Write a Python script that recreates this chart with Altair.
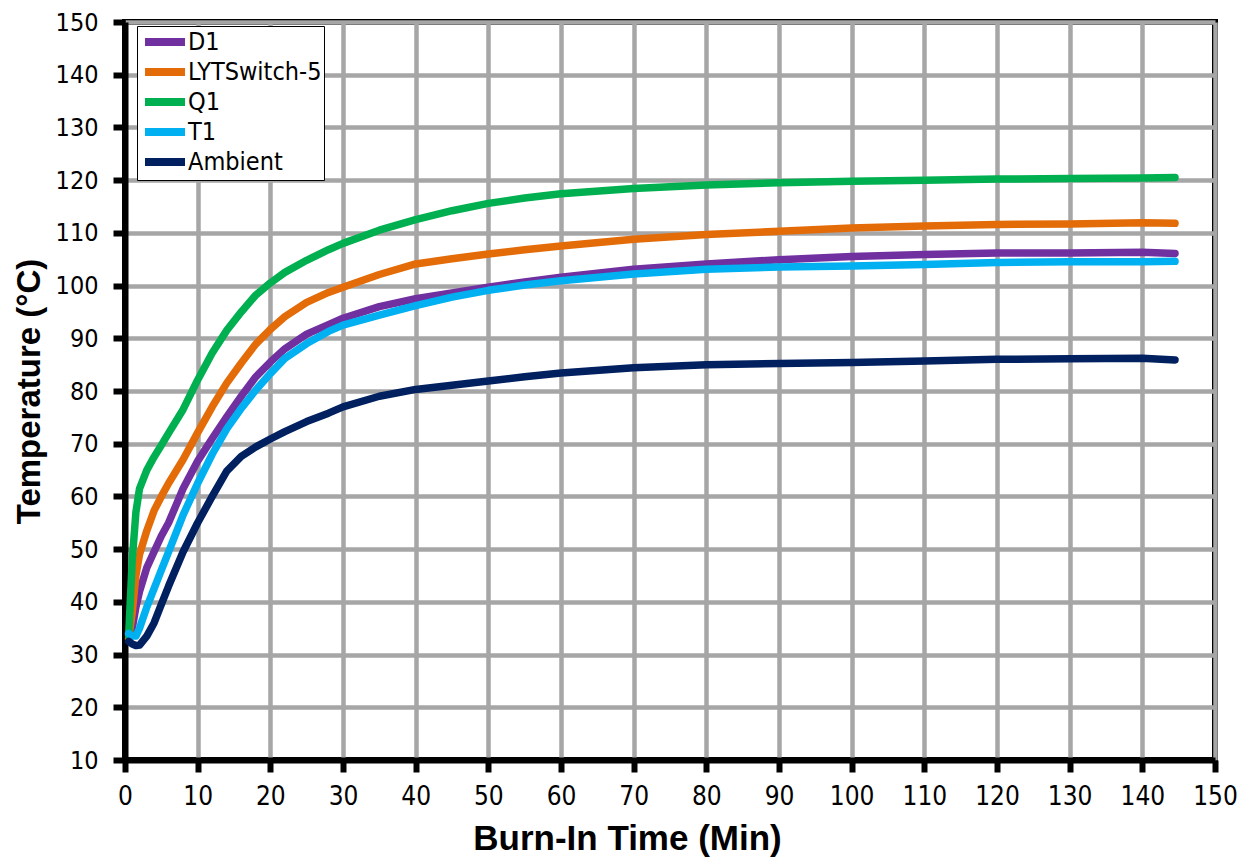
import altair as alt
import pandas as pd

time_min = [0.5, 1, 1.5, 2, 3, 4, 5, 6, 8, 10, 12, 14, 16, 18, 20, 22, 25, 28, 30,
            35, 40, 45, 50, 55, 60, 70, 80, 90, 100, 110, 120, 130, 140, 144.5]

d1 = [33, 35, 39, 42, 46.5, 49.5, 52.5, 55, 61.5, 66.7, 71, 75.1, 79, 82.7, 85.5, 88, 90.8, 92.6, 93.8,
      96, 97.5, 98.6, 99.7, 100.7, 101.6, 103.1, 104.1, 104.9, 105.5, 105.9, 106.2, 106.2, 106.3, 106.1]
lyt = [33, 38, 45, 49, 53.5, 57.3, 60, 62.5, 67, 72.1, 77, 81.5, 85.3, 88.9, 91.7, 94.1, 96.8, 98.7, 99.7,
       102.1, 104.1, 105.1, 106, 106.8, 107.5, 108.8, 109.7, 110.3, 110.9, 111.3, 111.6, 111.7, 111.9, 111.8]
q1 = [33.5, 48, 57, 61.5, 65, 67.5, 69.7, 72, 76.5, 82.1, 87.2, 91.5, 95, 98.2, 100.5, 102.5, 104.8, 106.8, 108,
      110.5, 112.5, 114.2, 115.6, 116.6, 117.4, 118.4, 119.1, 119.5, 119.8, 120, 120.2, 120.3, 120.4, 120.5]
t1 = [34, 33.5, 33.5, 35, 39, 42.5, 46, 49.5, 56.5, 62.5, 68, 72.8, 76.7, 80.2, 83.3, 86.2, 89, 91.3, 92.5,
      94.4, 96.2, 97.8, 99.1, 100.1, 100.9, 102.2, 103.1, 103.5, 103.7, 104, 104.4, 104.5, 104.5, 104.6]
ambient = [32.5, 32, 31.7, 31.8, 33.5, 36, 39.5, 43, 49.5, 55, 60, 64.8, 67.6, 69.4, 70.9, 72.3, 74.2, 75.8, 77,
           79, 80.3, 81.1, 81.9, 82.7, 83.4, 84.4, 85, 85.2, 85.4, 85.7, 86, 86.1, 86.2, 85.9]

series_names = ["D1", "LYTSwitch-5", "Q1", "T1", "Ambient"]
series_colors = ["#7030A0", "#E36C09", "#00B050", "#00B0F0", "#002060"]
series_values = [d1, lyt, q1, t1, ambient]

x_ticks = list(range(0, 151, 10))
y_ticks = list(range(10, 151, 10))

rows = []
for order, (name, vals) in enumerate(zip(series_names, series_values)):
    for t, v in zip(time_min, vals):
        rows.append({"time": t, "temp": v, "series": name, "order": order})
df = pd.DataFrame(rows)

TICK_FONT = "DejaVu Sans Condensed, Liberation Sans, sans-serif"
TITLE_FONT = "Liberation Sans, Arial, sans-serif"

chart = alt.Chart(df).mark_line(strokeWidth=7.5, strokeCap="round", strokeJoin="round").encode(
    x=alt.X("time:Q", scale=alt.Scale(domain=[0, 150], nice=False),
            axis=alt.Axis(values=x_ticks, title="Burn-In Time (Min)", titlePadding=12,
                          labelPadding=11, labelFontSize=26, titleFontSize=35,
                          titleX=502, titleAlign="center")),
    y=alt.Y("temp:Q", scale=alt.Scale(domain=[10, 150], nice=False),
            axis=alt.Axis(values=y_ticks, title="Temperature (°C)", titlePadding=9,
                          labelPadding=15, labelFontSize=25, titleFontSize=33)),
    color=alt.Color("series:N", scale=alt.Scale(domain=series_names, range=series_colors),
                    legend=alt.Legend(title=None, orient="none", legendX=12, legendY=4,
                                      symbolType="M-2,0L2,0", symbolStrokeWidth=8,
                                      symbolSize=400, symbolOffset=12, rowPadding=-4,
                                      labelFontSize=25, labelFont=TICK_FONT,
                                      labelColor="black", labelOffset=9,
                                      fillColor="white", strokeColor="black",
                                      padding=2, offset=0)),
    detail="order:O",
).properties(
    width=1090, height=738,
    autosize=alt.AutoSizeParams(type="none"),
    padding={"left": 117, "top": 14, "right": 30, "bottom": 99},
).configure_view(
    stroke="black", strokeWidth=6
).configure_axis(
    labelFont=TICK_FONT, labelColor="black", labelFlush=False,
    titleFont=TITLE_FONT, titleFontWeight="bold", titleColor="black",
    domainColor="black", domainWidth=6,
    tickColor="black", tickWidth=6, tickSize=12,
    gridColor="#A6A6A6", gridWidth=4.5, gridOpacity=1,
)

chart.save("out.html", embed_options={"renderer": "svg", "actions": False})
